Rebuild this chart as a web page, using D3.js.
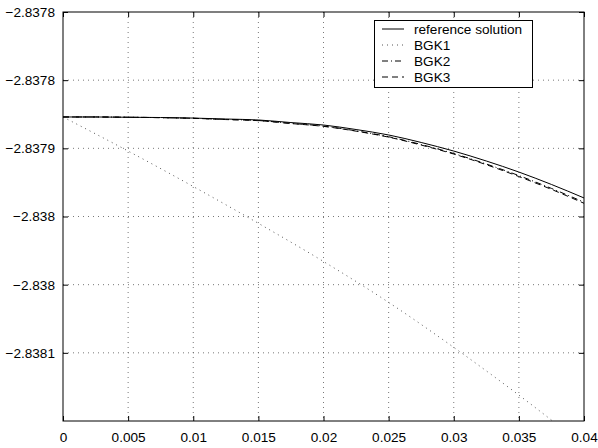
<!DOCTYPE html>
<html><head><meta charset="utf-8">
<script src="https://cdn.jsdelivr.net/npm/d3@7"></script>
<style>body{margin:0;background:#fff}svg{display:block}text{font-family:"Liberation Sans",Arial,sans-serif}</style>
</head><body><svg id="c" width="598" height="448"></svg>
<script>
const xFine = [0,0.0025,0.005,0.0075,0.01,0.0125,0.015,0.0175,0.02,0.0225,0.025,0.0275,0.03,0.0325,0.035,0.0375,0.04];
const refSolution = [-2.8378770,-2.8378770,-2.8378772,-2.8378774,-2.8378778,-2.8378785,-2.8378792,-2.8378811,-2.8378829,-2.8378862,-2.8378902,-2.8378957,-2.8379020,-2.8379093,-2.8379174,-2.8379265,-2.8379364];
const bgk2 = [-2.8378770,-2.8378770,-2.8378772,-2.8378775,-2.8378780,-2.8378788,-2.8378796,-2.8378817,-2.8378837,-2.8378872,-2.8378915,-2.8378972,-2.8379038,-2.8379115,-2.8379200,-2.8379294,-2.8379395];
const bgk3 = [-2.8378770,-2.8378770,-2.8378772,-2.8378775,-2.8378780,-2.8378789,-2.8378797,-2.8378818,-2.8378839,-2.8378874,-2.8378918,-2.8378976,-2.8379042,-2.8379120,-2.8379207,-2.8379301,-2.8379403];
const xCoarse = [0,0.005,0.01,0.015,0.02,0.025,0.03,0.035,0.04];
const bgk1 = [-2.837877,-2.837902,-2.837928,-2.837955,-2.837983,-2.838013,-2.838046,-2.838081,-2.838118];
const xTicks = [0,0.005,0.01,0.015,0.02,0.025,0.03,0.035,0.04];
const xTickLabels = ["0","0.005","0.01","0.015","0.02","0.025","0.03","0.035","0.04"];
const yTicks = [-2.8378,-2.83785,-2.8379,-2.83795,-2.838,-2.83805];
const yTickLabels = ["\u22122.8378","\u22122.8378","\u22122.8379","\u22122.838","\u22122.838","\u22122.8381"];
const legendNames = ["reference solution","BGK1","BGK2","BGK3"];

const L=63,R=584,T=12,B=421;
const svg=d3.select("#c");
const x=d3.scaleLinear().domain([0,0.04]).range([L,R]);
const y=d3.scaleLinear().domain([-2.8381,-2.8378]).range([B,T]);

// grid
const g=svg.append("g");
g.selectAll("line.vx").data(xTicks.slice(1,-1)).enter().append("line")
 .attr("x1",d=>x(d)).attr("x2",d=>x(d)).attr("y1",T).attr("y2",B)
 .attr("stroke","#555").attr("stroke-width",0.8).attr("stroke-dasharray","1,4");
g.selectAll("line.hy").data(yTicks.slice(1)).enter().append("line")
 .attr("y1",d=>y(d)).attr("y2",d=>y(d)).attr("x1",L).attr("x2",R)
 .attr("stroke","#555").attr("stroke-width",0.8).attr("stroke-dasharray","1,4");

svg.append("defs").append("clipPath").attr("id","clip").append("rect")
 .attr("x",L).attr("y",T).attr("width",R-L).attr("height",B-T);

const line=d3.line().x(d=>x(d[0])).y(d=>y(d[1])).curve(d3.curveMonotoneX);
const zip=(a,b)=>a.map((v,i)=>[v,b[i]]);
const series=[
 {data:zip(xFine,refSolution),dash:null,color:"#000"},
 {data:zip(xCoarse,bgk1),dash:"1,4",color:"#555"},
 {data:zip(xFine,bgk2),dash:"6,3,1,3",color:"#000"},
 {data:zip(xFine,bgk3),dash:"6,4",color:"#000"}
];
const pg=svg.append("g").attr("clip-path","url(#clip)");
series.forEach(s=>{
 pg.append("path").attr("d",line(s.data)).attr("fill","none").attr("stroke",s.color)
  .attr("stroke-width",1).attr("stroke-dasharray",s.dash);
});

// axes
const FS=13.6;
const ax=d3.axisBottom(x).tickValues(xTicks).tickFormat((d,i)=>xTickLabels[i]).tickSizeInner(-5).tickSizeOuter(0).tickPadding(11);
const axG=svg.append("g").attr("transform",`translate(0,${B})`).call(ax);
const axTop=d3.axisTop(x).tickValues(xTicks).tickFormat("").tickSizeInner(-5).tickSizeOuter(0);
const axTG=svg.append("g").attr("transform",`translate(0,${T})`).call(axTop);
const ay=d3.axisLeft(y).tickValues(yTicks).tickFormat((d,i)=>yTickLabels[i]).tickSizeInner(-5).tickSizeOuter(0).tickPadding(8);
const ayG=svg.append("g").attr("transform",`translate(${L},0)`).call(ay);
const ayR=d3.axisRight(y).tickValues(yTicks).tickFormat("").tickSizeInner(-5).tickSizeOuter(0);
const ayRG=svg.append("g").attr("transform",`translate(${R},0)`).call(ayR);
[axG,axTG,ayG,ayRG].forEach(a=>{
 a.select(".domain").remove();
 a.selectAll("line").attr("stroke","#000");
 a.selectAll("text").attr("font-size",FS).attr("fill","#000").attr("font-family","Liberation Sans, Arial, sans-serif");
});
svg.append("rect").attr("x",L).attr("y",T).attr("width",R-L).attr("height",B-T)
 .attr("fill","none").attr("stroke","#000").attr("stroke-width",1);

// legend
const lg=svg.append("g");
lg.append("rect").attr("x",374.5).attr("y",20.5).attr("width",158).attr("height",67)
 .attr("fill","#fff").attr("stroke","#000").attr("stroke-width",1);
legendNames.forEach((n,i)=>{
 const cy=29+i*16;
 lg.append("line").attr("x1",382).attr("x2",404).attr("y1",cy).attr("y2",cy)
  .attr("stroke",series[i].color).attr("stroke-width",1).attr("stroke-dasharray",series[i].dash);
 lg.append("text").attr("x",414).attr("y",cy).attr("dy","0.35em").attr("font-size",FS).text(n);
});
</script></body></html>
